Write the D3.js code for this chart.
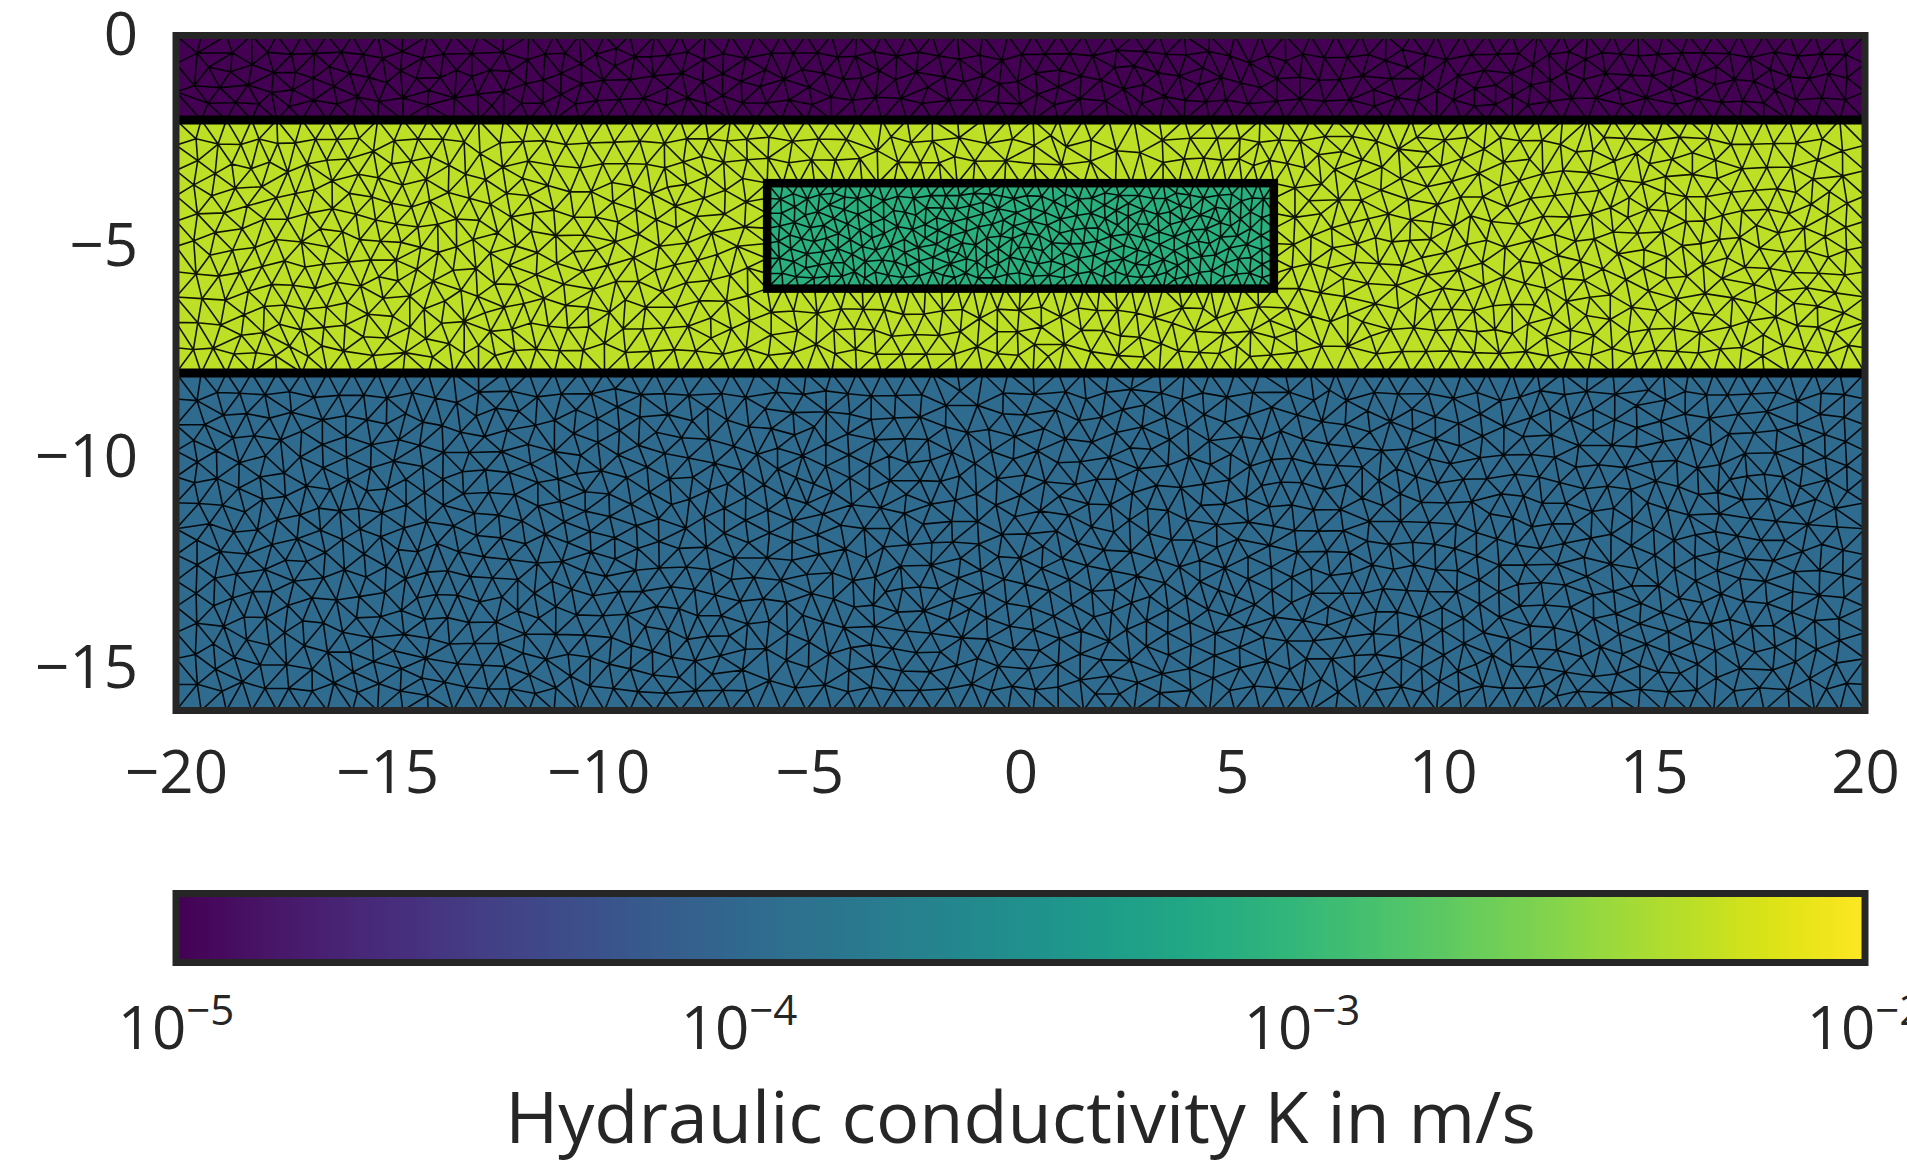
<!DOCTYPE html>
<html><head><meta charset="utf-8">
<script src="https://cdn.jsdelivr.net/npm/d3@7"></script>
<style>
html,body{margin:0;padding:0;background:#fff;}
svg{display:block;}
text{font-family:"Open Sans","Noto Sans",sans-serif;fill:#262626;}
</style></head><body>
<svg id="chart" width="1907" height="1166"></svg>
<script>
// ---------------- data ----------------
const regionNames = ["Top layer", "Aquifer", "Bottom layer", "Lens"];
const regionK     = [1e-5, 5e-3, 1.1e-4, 8e-4];      // hydraulic conductivity, m/s
const regionXMin  = [-20, -20, -20, -6];
const regionXMax  = [20, 20, 20, 6];
const regionYMin  = [-2, -8, -16, -6];
const regionYMax  = [0, -2, -8, -3.5];
const meshSize    = [0.6, 0.6, 0.6, 0.37];
const interfaceDepths = [-2, -8];
const xTicks = [-20, -15, -10, -5, 0, 5, 10, 15, 20];
const yTicks = [0, -5, -10, -15];
const cbTicks = [1e-5, 1e-4, 1e-3, 1e-2];
const cbExponents = [-5, -4, -3, -2];
const cbLabel = "Hydraulic conductivity K in m/s";

// ---------------- layout ----------------
const W = 1907, H = 1166;
const L = 176, R = 1865, T = 35.5, B = 710.5;
const cbTop = 893.5, cbBot = 962.5;

const svg = d3.select("#chart");
const x = d3.scaleLinear().domain([-20, 20]).range([L, R]);
const y = d3.scaleLinear().domain([-16, 0]).range([B, T]);
const color = d3.scaleSequentialLog(d3.interpolateViridis).domain([1e-5, 1e-2]);
const cbX = d3.scaleLog().domain([1e-5, 1e-2]).range([L, R]);
const fmt = d => d < 0 ? "\u2212" + Math.abs(d) : String(d);

// ---------------- mesh (deterministic quasi-uniform nodes + Lloyd smoothing) ----------------
function halton(i, b) { let f = 1, r = 0; while (i > 0) { f /= b; r += f * (i % b); i = Math.floor(i / b); } return r; }
function buildMesh() {
  const pts = [], fixed = [], owner = [];
  const seen = new Set();
  function add(px, py, isFixed, reg) {
    const k = Math.round(px * 1000) + "_" + Math.round(py * 1000);
    if (seen.has(k)) return;
    seen.add(k); pts.push([px, py]); fixed.push(isFixed); owner.push(reg);
  }
  function seg(x0, y0, x1, y1, h) {
    const n = Math.max(1, Math.round(Math.hypot(x1 - x0, y1 - y0) / h));
    for (let i = 0; i <= n; i++) add(x0 + (x1 - x0) * i / n, y0 + (y1 - y0) * i / n, true, -1);
  }
  for (let r = regionNames.length - 1; r >= 0; r--) {
    const h = meshSize[r];
    seg(regionXMin[r], regionYMin[r], regionXMax[r], regionYMin[r], h);
    seg(regionXMin[r], regionYMax[r], regionXMax[r], regionYMax[r], h);
    seg(regionXMin[r], regionYMin[r], regionXMin[r], regionYMax[r], h);
    seg(regionXMax[r], regionYMin[r], regionXMax[r], regionYMax[r], h);
  }
  const lens = 3;
  function inLens(px, py, m) {
    return px > regionXMin[lens] - m && px < regionXMax[lens] + m && py > regionYMin[lens] - m && py < regionYMax[lens] + m;
  }
  function clamp(p, r) {
    const m = 0.3 * meshSize[r];
    p[0] = Math.max(regionXMin[r] + m, Math.min(regionXMax[r] - m, p[0]));
    p[1] = Math.max(regionYMin[r] + m, Math.min(regionYMax[r] - m, p[1]));
    if (r === 1 && inLens(p[0], p[1], m)) {
      const d = [p[0] - (regionXMin[lens] - m), (regionXMax[lens] + m) - p[0], p[1] - (regionYMin[lens] - m), (regionYMax[lens] + m) - p[1]];
      const k = d.indexOf(Math.min(...d));
      if (k === 0) p[0] = regionXMin[lens] - m;
      else if (k === 1) p[0] = regionXMax[lens] + m;
      else if (k === 2) p[1] = regionYMin[lens] - m;
      else p[1] = regionYMax[lens] + m;
    }
  }
  for (let r = 0; r < regionNames.length; r++) {
    const h = meshSize[r];
    const w = regionXMax[r] - regionXMin[r], hh = regionYMax[r] - regionYMin[r];
    let area = w * hh;
    if (r === 1) area -= (regionXMax[lens] - regionXMin[lens]) * (regionYMax[lens] - regionYMin[lens]);
    const n = Math.round(area / (h * h * Math.sqrt(3) / 2));
    let count = 0, idx = 1 + r * 7919;
    const m = 0.45 * h;
    while (count < n) {
      const px = regionXMin[r] + halton(idx, 2) * w;
      const py = regionYMin[r] + halton(idx, 3) * hh;
      idx++;
      if (px < regionXMin[r] + m || px > regionXMax[r] - m || py < regionYMin[r] + m || py > regionYMax[r] - m) { continue; }
      if (r === 1 && inLens(px, py, m)) continue;
      add(px, py, false, r); count++;
    }
  }
  for (let it = 0; it < 8; it++) {
    const del = d3.Delaunay.from(pts);
    const vor = del.voronoi([-20, -16, 20, 0]);
    const next = pts.map(p => p.slice());
    for (let i = 0; i < pts.length; i++) {
      if (fixed[i]) continue;
      const poly = vor.cellPolygon(i);
      if (!poly) continue;
      const c = d3.polygonCentroid(poly);
      next[i] = c;
      clamp(next[i], owner[i]);
    }
    for (let i = 0; i < pts.length; i++) pts[i] = next[i];
  }
  return pts;
}
const meshPts = buildMesh();

// ---------------- plot ----------------
svg.append("defs").append("clipPath").attr("id", "plotClip")
  .append("rect").attr("x", L).attr("y", T).attr("width", R - L).attr("height", B - T);

const regionIdx = d3.range(regionNames.length);
svg.append("g").selectAll("rect.region").data(regionIdx).join("rect")
  .attr("class", "region")
  .attr("x", i => x(regionXMin[i]))
  .attr("y", i => y(regionYMax[i]))
  .attr("width", i => x(regionXMax[i]) - x(regionXMin[i]))
  .attr("height", i => y(regionYMin[i]) - y(regionYMax[i]))
  .attr("fill", i => color(regionK[i]));

const del = d3.Delaunay.from(meshPts, p => x(p[0]), p => y(p[1]));
svg.append("path")
  .attr("clip-path", "url(#plotClip)")
  .attr("d", del.render())
  .attr("fill", "none")
  .attr("stroke", "#000")
  .attr("stroke-opacity", 0.9)
  .attr("stroke-width", 1.6);

svg.append("g").selectAll("line").data(interfaceDepths).join("line")
  .attr("x1", x(-20)).attr("x2", x(20))
  .attr("y1", d => y(d)).attr("y2", d => y(d))
  .attr("stroke", "#000").attr("stroke-width", 9);

svg.append("rect")
  .attr("x", x(regionXMin[3])).attr("y", y(regionYMax[3]))
  .attr("width", x(regionXMax[3]) - x(regionXMin[3]))
  .attr("height", y(regionYMin[3]) - y(regionYMax[3]))
  .attr("fill", "none").attr("stroke", "#000").attr("stroke-width", 8.5);

svg.append("rect").attr("x", L).attr("y", T).attr("width", R - L).attr("height", B - T)
  .attr("fill", "none").attr("stroke", "#262626").attr("stroke-width", 7);

// axes
const xAxis = svg.append("g").attr("transform", `translate(0,${B})`)
  .call(d3.axisBottom(x).tickValues(xTicks).tickSize(0).tickPadding(40).tickFormat(fmt));
const yAxis = svg.append("g").attr("transform", `translate(${L},0)`)
  .call(d3.axisLeft(y).tickValues(yTicks).tickSize(0).tickPadding(38).tickFormat(fmt));
[xAxis, yAxis].forEach(a => {
  a.select(".domain").remove();
  a.selectAll("text").attr("font-size", 60).attr("font-family", null).attr("fill", "#262626");
});

// ---------------- colorbar ----------------
const grad = svg.select("defs").append("linearGradient").attr("id", "cbGrad")
  .attr("x1", "0%").attr("x2", "100%").attr("y1", "0%").attr("y2", "0%");
const steps = d3.range(0, 101).map(i => Math.pow(10, -5 + 3 * i / 100));
grad.selectAll("stop").data(steps).join("stop")
  .attr("offset", k => (cbX(k) - L) / (R - L))
  .attr("stop-color", k => color(k));
svg.append("rect").attr("x", L).attr("y", cbTop).attr("width", R - L).attr("height", cbBot - cbTop)
  .attr("fill", "url(#cbGrad)").attr("stroke", "#262626").attr("stroke-width", 7);

const cbt = svg.append("g").selectAll("text").data(cbTicks).join("text")
  .attr("x", k => cbX(k)).attr("y", 1049)
  .attr("text-anchor", "middle").attr("font-size", 60);
cbt.append("tspan").text("10");
cbt.append("tspan").attr("dy", -24).attr("font-size", 42).text((k, i) => "\u2212" + Math.abs(cbExponents[i]));

svg.append("text").attr("x", (L + R) / 2).attr("y", 1143)
  .attr("text-anchor", "middle").attr("font-size", 72).text(cbLabel);
</script>
</body></html>
